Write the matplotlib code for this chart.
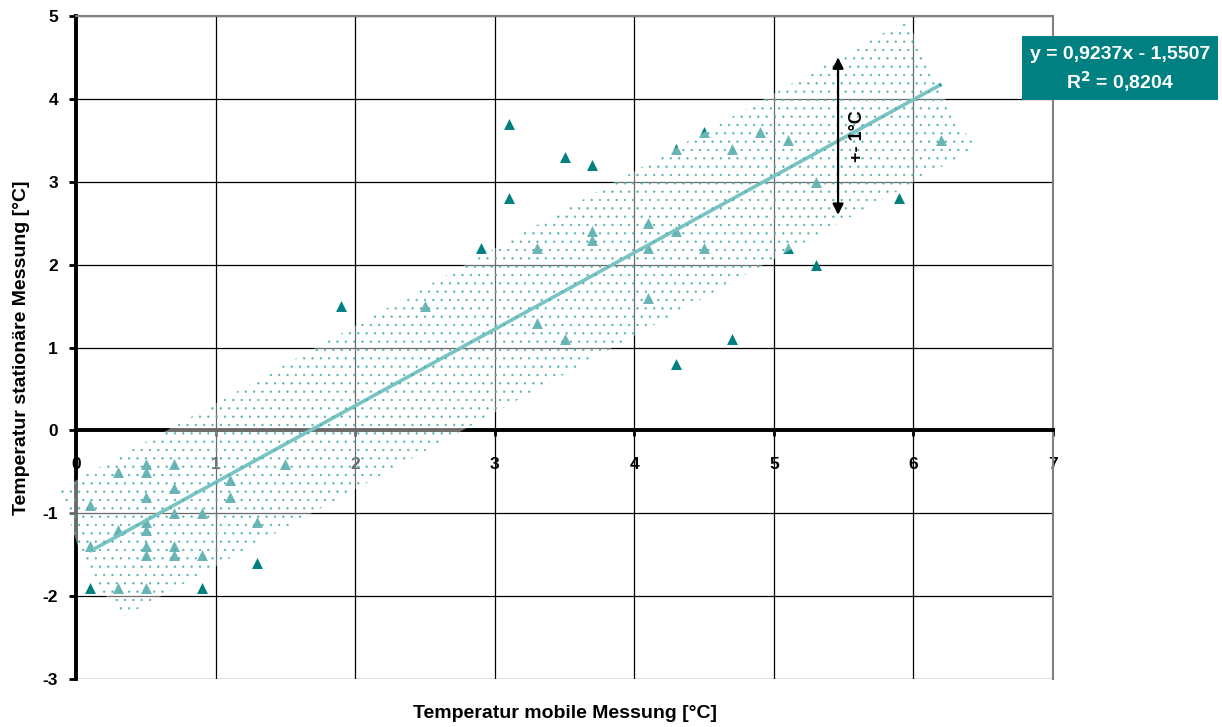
import numpy as np
import matplotlib
matplotlib.use("Agg")
import matplotlib.pyplot as plt
from matplotlib.patches import Polygon, Rectangle

plt.rcParams['font.family'] = ['Liberation Sans', 'DejaVu Sans']
plt.rcParams['font.weight'] = 'bold'
plt.rcParams['axes.unicode_minus'] = False
plt.rcParams['hatch.linewidth'] = 0.4

# --- Data ---
mobile = [0.1, 0.3, 0.5, 0.5, 0.7, 0.7, 0.5, 0.7, 0.9, 1.1, 1.1, 1.5, 1.3, 0.5,
          0.5, 0.3, 0.1, 0.5, 0.5, 0.7, 0.7, 0.9, 1.3, 0.1, 0.3, 0.5, 0.9,
          1.9, 2.5, 2.9, 3.1, 3.1, 3.3, 3.3, 3.5, 3.5, 3.7, 3.7, 3.7, 4.1, 4.1,
          4.1, 4.3, 4.3, 4.3,
          4.5, 4.5, 4.7, 4.7, 4.9, 5.1, 5.1, 5.3, 5.3, 5.9, 6.2]
stationaer = [-0.9, -0.5, -0.4, -0.5, -0.4, -0.7, -0.8, -1.0, -1.0, -0.6, -0.8, -0.4, -1.1, -1.1,
              -1.2, -1.2, -1.4, -1.4, -1.5, -1.4, -1.5, -1.5, -1.6, -1.9, -1.9, -1.9, -1.9,
              1.5, 1.5, 2.2, 3.7, 2.8, 2.2, 1.3, 3.3, 1.1, 3.2, 2.4, 2.3, 2.5, 2.2,
              1.6, 2.4, 3.4, 0.8,
              3.6, 2.2, 3.4, 1.1, 3.6, 3.5, 2.2, 3.0, 2.0, 2.8, 3.5]

slope = 0.9237
intercept = -1.5507
r_squared = 0.8204
fit_x_range = [0.1, 6.2]

# outline of the dotted +-1 degC band (mobile, stationaer)
band_x = [-0.115, 0.64, 5.95, 6.12, 6.26, 6.45, 0.35, 0.17, 0.01]
band_y = [-0.71, -0.01, 4.95, 4.42, 3.87, 3.41, -2.24, -1.92, -1.38]

arrow_x = 5.46
arrow_y = [4.5, 2.6]

teal = '#008080'

# --- Plot ---
fig = plt.figure(figsize=(12.22, 7.27), dpi=100)
ax = fig.add_axes([0.0622, 0.066, 0.7995, 0.912])

ax.scatter(mobile, stationaer, marker='^', s=62, color=teal, linewidths=0, zorder=3)

fx = np.array(fit_x_range)
ax.plot(fx, slope * fx + intercept, color='#1a9999', linewidth=2.6, zorder=3.5,
        solid_capstyle='butt')

# translucent dotted band on top of points and grid
band = list(zip(band_x, band_y))
ax.add_patch(Polygon(band, closed=True, facecolor='white', alpha=0.42,
                     edgecolor='none', zorder=5, clip_on=False))
ax.add_patch(Polygon(band, closed=True, facecolor='none', edgecolor='#4fb0b0',
                     hatch='..', linewidth=0, zorder=5.1, clip_on=False))

ax.annotate('', xy=(arrow_x, arrow_y[0]), xytext=(arrow_x, arrow_y[1]),
            arrowprops=dict(arrowstyle='<|-|>', color='black', lw=1.6,
                            mutation_scale=16, shrinkA=0, shrinkB=0), zorder=6)
ax.text(arrow_x + 0.14, 3.55, '+- 1°C', rotation=90, ha='center', va='center',
        fontsize=13, fontweight='bold', zorder=6)

ax.set_xlim(0, 7)
ax.set_ylim(-3, 5)
ax.set_xticks(range(0, 8))
ax.set_yticks(range(-3, 6))
ax.grid(True, color='black', linewidth=0.9)
ax.set_axisbelow(True)

ax.spines['bottom'].set_position(('data', 0))
ax.spines['bottom'].set_linewidth(2.8)
ax.spines['left'].set_linewidth(2.8)
for s in ['top', 'right']:
    ax.spines[s].set_color('#808080')
    ax.spines[s].set_linewidth(1.5)

ax.tick_params(axis='y', direction='out', length=5, width=2, pad=8, labelsize=12.5)
ax.tick_params(axis='x', direction='out', length=4, width=2, pad=15, labelsize=12.5)
for lab in ax.get_xticklabels() + ax.get_yticklabels():
    lab.set_fontweight('bold')

ax.set_xlabel('Temperatur mobile Messung [°C]', fontsize=14, fontweight='bold')
ax.xaxis.set_label_coords(0.5, -0.039)
ax.set_ylabel('Temperatur stationäre Messung [°C]', fontsize=14, fontweight='bold')
ax.yaxis.set_label_coords(-0.047, 0.5)

# equation box
fig.patches.append(Rectangle((0.8363, 0.8624), 0.1604, 0.088, transform=fig.transFigure,
                             facecolor=teal, edgecolor='none'))
fig.text(0.9165, 0.9257, f'y = {slope:.4f}x - {abs(intercept):.4f}'.replace('.', ','),
         color='white', fontsize=14, fontweight='bold', ha='center', va='center')
fig.text(0.9165, 0.8872, f'R$^\\mathbf{{2}}$ = {r_squared:.4f}'.replace('.', ','),
         color='white', fontsize=14, fontweight='bold', ha='center', va='center')

fig.savefig('out.png', dpi=100)
